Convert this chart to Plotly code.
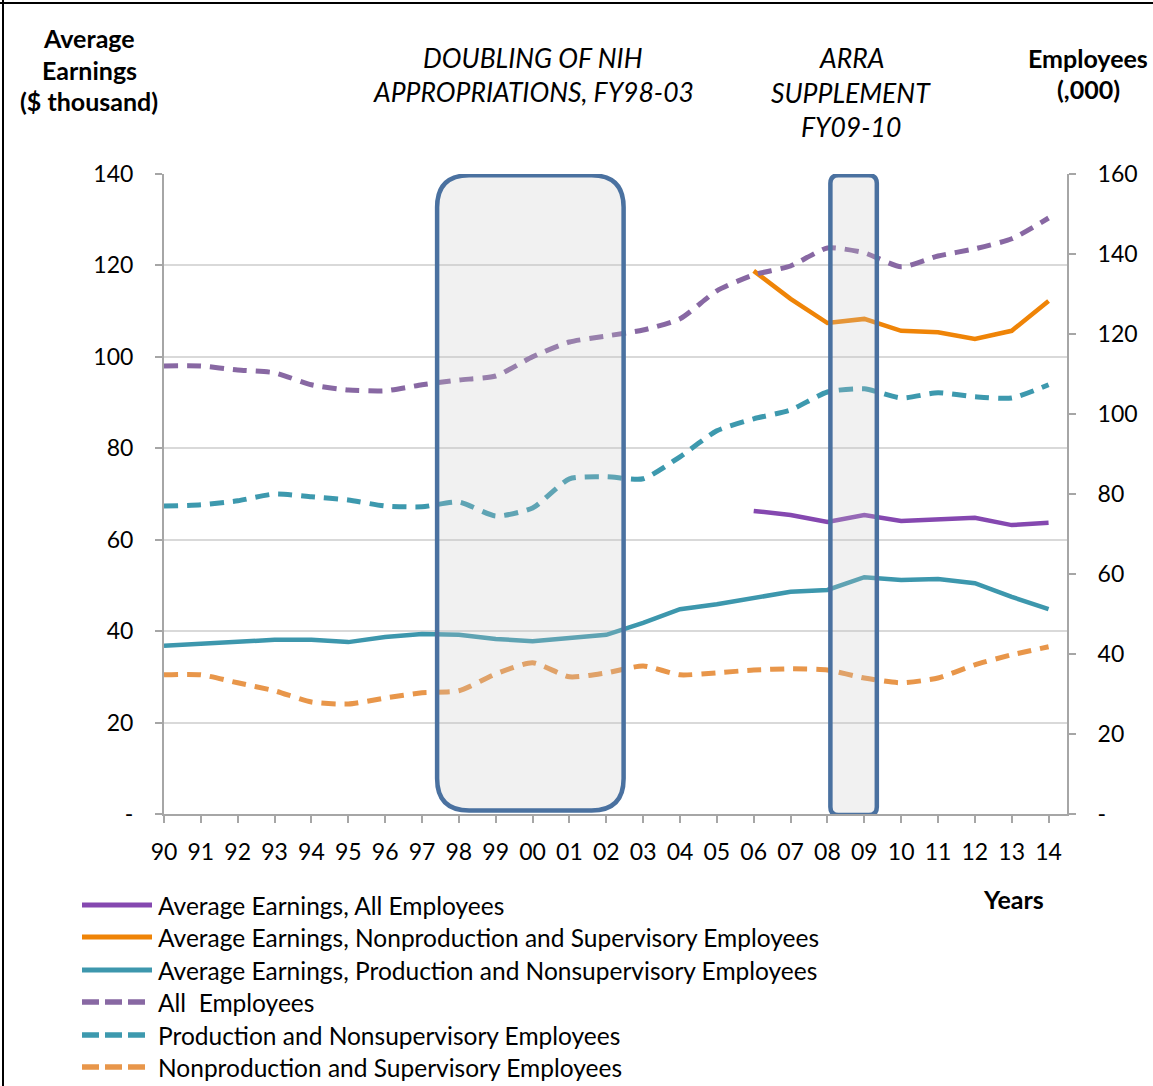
import plotly.graph_objects as go

# ---- data -------------------------------------------------------------
years = ["90", "91", "92", "93", "94", "95", "96", "97", "98", "99", "00", "01", "02",
         "03", "04", "05", "06", "07", "08", "09", "10", "11", "12", "13", "14"]

# Average earnings ($ thousand), left axis
earn_all = [None] * 16 + [66.3, 65.4, 63.9, 65.4, 64.1, 64.5, 64.8, 63.2, 63.7]
earn_nonprod = [None] * 16 + [118.8, 112.7, 107.4, 108.3, 105.7, 105.4, 103.9, 105.7, 112.2]
earn_prod = [36.8, 37.2, 37.8, 38.1, 38.1, 37.6, 38.7, 39.4, 39.2, 38.3, 37.8, 38.5, 39.2,
             41.8, 44.8, 45.9, 47.3, 48.6, 49.0, 51.8, 51.2, 51.4, 50.5, 47.5, 44.8]

# Employees (thousands), right axis
emp_all = [112.0, 112.0, 111.0, 110.3, 107.3, 106.0, 105.8, 107.3, 108.5, 109.5, 114.3, 118.0,
           119.5, 121.0, 123.8, 130.8, 134.8, 137.0, 141.5, 140.3, 136.8, 139.5, 141.3, 143.8, 149.0]
emp_prod = [77.0, 77.3, 78.3, 80.0, 79.3, 78.5, 77.0, 76.8, 78.0, 74.5, 76.5, 83.8, 84.3,
            83.8, 89.3, 95.8, 98.8, 101.0, 105.5, 106.3, 104.0, 105.3, 104.3, 104.0, 107.3]
emp_nonprod = [34.8, 34.8, 32.8, 30.8, 28.0, 27.5, 29.0, 30.3, 30.8, 35.0, 37.8, 34.3, 35.3,
               37.0, 34.8, 35.3, 36.0, 36.3, 36.0, 34.0, 32.8, 34.0, 37.3, 39.8, 41.8]

left_ticks = [0, 20, 40, 60, 80, 100, 120, 140]
left_ticktext = ["-", "20", "40", "60", "80", "100", "120", "140"]
right_ticks = [0, 20, 40, 60, 80, 100, 120, 140, 160]
right_ticktext = ["-", "20", "40", "60", "80", "100", "120", "140", "160"]

# policy periods shaded on the chart (x in year-index units, y on the earnings axis)
periods = [
    {"x0": 7.41, "x1": 12.47, "y0": 0.77, "y1": 139.7},
    {"x0": 18.08, "x1": 19.34, "y0": -0.2, "y1": 139.7},
]

series = [
    ("Average Earnings, All Employees", earn_all, "y", "#8548B0", None),
    ("Average Earnings, Nonproduction and Supervisory Employees", earn_nonprod, "y", "#EF8407", None),
    ("Average Earnings, Production and Nonsupervisory Employees", earn_prod, "y", "#3D97AD", None),
    ("All  Employees", emp_all, "y2", "#8868A3", "dash"),
    ("Production and Nonsupervisory Employees", emp_prod, "y2", "#3D99AE", "dash"),
    ("Nonproduction and Supervisory Employees", emp_nonprod, "y2", "#E8964A", "dash"),
]

# ---- layout geometry ----------------------------------------------------
W, H = 1153, 1086
PL, PR, PT, PB = 164, 1067, 174, 814
FONT = "Lato"


def fx(px):
    return (px - PL) / (PR - PL)


def fy(py):
    return (PB - py) / (PB - PT)


xs = list(range(len(years)))
fig = go.Figure()

for name, vals, yax, color, style in series:
    if style == "dash":
        line = dict(color=color, width=5, dash="14px,9px", shape="spline", smoothing=0.6)
    else:
        line = dict(color=color, width=4.5)
    fig.add_trace(go.Scatter(x=xs, y=vals, name=name, mode="lines", yaxis=yax,
                             line=line, connectgaps=False, showlegend=False,
                             hoverinfo="x+y+name"))


def rounded_rect(x0, x1, y0, y1, rx_px):
    # rounded rectangle path in data coordinates, radius given in pixels
    kx = (PR - PL) / 24.5
    ky = (PB - PT) / 140.0
    rx = rx_px / kx
    ry = rx_px / ky
    return (f"M {x0 + rx},{y0} L {x1 - rx},{y0} Q {x1},{y0} {x1},{y0 + ry} "
            f"L {x1},{y1 - ry} Q {x1},{y1} {x1 - rx},{y1} L {x0 + rx},{y1} "
            f"Q {x0},{y1} {x0},{y1 - ry} L {x0},{y0 + ry} Q {x0},{y0} {x0 + rx},{y0} Z")


for p, rad in zip(periods, [32, 8]):
    fig.add_shape(type="path", xref="x", yref="y",
                  path=rounded_rect(p["x0"], p["x1"], p["y0"], p["y1"], rad),
                  line=dict(color="#4A71A0", width=4.5),
                  fillcolor="rgba(200,200,200,0.25)", layer="above")

# ---- header texts ---------------------------------------------------------
def label(text, px, py, size=22, bold=False, italic=False, anchor="center"):
    t = text
    if bold:
        t = f"<b>{t}</b>"
    if italic:
        t = f"<i>{t}</i>"
    fig.add_annotation(x=fx(px), y=fy(py), xref="paper", yref="paper", text=t,
                       showarrow=False, xanchor=anchor, yanchor="middle",
                       font=dict(family=FONT, size=size, color="#000000"))


for txt, py in [("Average", 38), ("Earnings", 70), ("($ thousand)", 101)]:
    label(txt, 89, py, size=25, bold=True)
for txt, py in [("DOUBLING OF NIH", 58), ("APPROPRIATIONS, FY98-03", 92)]:
    label(txt, 533, py, size=26.5, italic=True)
for txt, py in [("ARRA", 58), ("SUPPLEMENT", 93), ("FY09-10", 127)]:
    label(txt, 851, py, size=26.5, italic=True)
for txt, py in [("Employees", 58), ("(,000)", 89)]:
    label(txt, 1088, py, size=25, bold=True)
label("Years", 1013, 899, size=25, bold=True)

# ---- legend drawn as line samples + labels ------------------------------
legend_rows = [905, 937, 970, 1002, 1035, 1067]
for (name, vals, yax, color, style), py in zip(series, legend_rows):
    if style == "dash":
        fig.add_shape(type="line", xref="paper", yref="paper",
                      x0=fx(82), x1=fx(147), y0=fy(py), y1=fy(py),
                      line=dict(color=color, width=5.5, dash="17px,6px"))
    else:
        fig.add_shape(type="line", xref="paper", yref="paper",
                      x0=fx(82), x1=fx(152), y0=fy(py), y1=fy(py),
                      line=dict(color=color, width=5))
    label(name, 156, py, size=24.5, anchor="left")

# frame edges
fig.add_shape(type="line", xref="paper", yref="paper", x0=fx(0), x1=fx(W), y0=fy(3), y1=fy(3),
              line=dict(color="#000000", width=2))
fig.add_shape(type="line", xref="paper", yref="paper", x0=fx(3), x1=fx(3), y0=fy(0), y1=fy(H),
              line=dict(color="#000000", width=2))

axis_gray = "#A6A6A6"
fig.update_layout(
    width=W, height=H,
    margin=dict(l=PL, r=W - PR, t=PT, b=H - PB),
    paper_bgcolor="white", plot_bgcolor="white",
    font=dict(family=FONT, size=23, color="#000000"),
    showlegend=False,
    xaxis=dict(range=[0, 24.5], tickvals=xs, ticktext=years, showgrid=False,
               showline=True, linecolor=axis_gray, linewidth=2,
               ticks="outside", ticklen=7, tickcolor=axis_gray, tickwidth=1.5,
               ticklabelstandoff=9, tickfont=dict(size=23), zeroline=False),
    yaxis=dict(range=[0, 140], tickvals=left_ticks, ticktext=left_ticktext,
               showgrid=True, gridcolor="#D9D9D9", gridwidth=1.5,
               showline=True, linecolor=axis_gray, linewidth=2,
               ticks="outside", ticklen=7, tickcolor=axis_gray, tickwidth=1.5,
               ticklabelstandoff=17, tickfont=dict(size=23), zeroline=False),
    yaxis2=dict(range=[0, 160], tickvals=right_ticks, ticktext=right_ticktext,
                overlaying="y", side="right", showgrid=False,
                showline=True, linecolor=axis_gray, linewidth=2,
                ticks="outside", ticklen=7, tickcolor=axis_gray, tickwidth=1.5,
                ticklabelstandoff=17, tickfont=dict(size=23), zeroline=False),
)

fig.write_html("out.html")
